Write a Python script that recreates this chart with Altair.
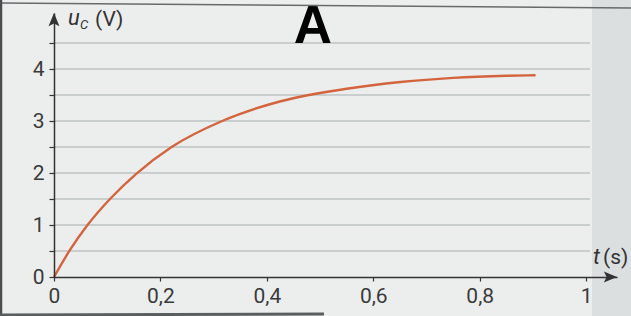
import altair as alt
import pandas as pd

# --- data ---
t_values = [0, 0.03, 0.063, 0.107, 0.154, 0.221, 0.316, 0.426, 0.55, 0.651, 0.75, 0.85, 0.905]
u_values = [0, 0.52, 1.0, 1.52, 1.98, 2.5, 3.0, 3.38, 3.62, 3.75, 3.83, 3.87, 3.88]
x_ticks = [0, 0.2, 0.4, 0.6, 0.8, 1]
y_ticks = [0, 0.5, 1, 1.5, 2, 2.5, 3, 3.5, 4, 4.5]
grid_lines = [0.5, 1, 1.5, 2, 2.5, 3, 3.5, 4, 4.5]
x_max = 1.058
y_max = 5.077
grid_end = 1.007

W, H = 563, 264
FONT = "Roboto"
AXIS_COLOR = "#333333"

xs = alt.Scale(domain=[0, x_max], nice=False, zero=False)
ys = alt.Scale(domain=[0, y_max], nice=False, zero=False)

curve_df = pd.DataFrame({"t": t_values, "u": u_values})
grid_df = pd.DataFrame({"g": grid_lines, "x0": [0] * len(grid_lines), "x1": [grid_end] * len(grid_lines)})
one = pd.DataFrame({"a": [0]})

x_axis = alt.Axis(
    values=x_ticks, format=".1~f",
    labelExpr="replace(datum.label, '.', ',')",
    title=None, grid=False, domainColor=AXIS_COLOR, domainWidth=1.5,
    tickColor=AXIS_COLOR, tickSize=4, tickWidth=1.2,
    labelFont=FONT, labelFontSize=21, labelColor="#3a3a3a",
    labelPadding=4, labelOverlap=False, labelFlush=False, zindex=1,
)
y_axis = alt.Axis(
    values=y_ticks,
    labelExpr="datum.value % 1 === 0 ? format(datum.value, 'd') : ''",
    title=None, grid=False, domainColor=AXIS_COLOR, domainWidth=1.5,
    tickColor=AXIS_COLOR, tickSize=5, tickWidth=1.2,
    labelFont=FONT, labelFontSize=21, labelColor="#3a3a3a",
    labelPadding=5, labelOverlap=False, labelFlush=False, zindex=1,
)

shade = alt.Chart(one).mark_rect(color="#dcdfdf").encode(
    x=alt.value(538), x2=alt.value(577), y=alt.value(-13), y2=alt.value(303)
)

grid = alt.Chart(grid_df).mark_rule(color="#a5aeae", strokeWidth=1).encode(
    x=alt.X("x0:Q", scale=xs, axis=x_axis),
    x2="x1:Q",
    y=alt.Y("g:Q", scale=ys, axis=y_axis),
)

curve = alt.Chart(curve_df).mark_line(
    color="#d4643e", strokeWidth=2.4, interpolate="monotone"
).encode(
    x=alt.X("t:Q", scale=xs, axis=x_axis),
    y=alt.Y("u:Q", scale=ys, axis=y_axis),
)

arrow_y = alt.Chart(pd.DataFrame({"x": [0], "y": [y_max]})).mark_point(
    shape="M0,0L0.5,1.2L0,0.95L-0.5,1.2Z", size=480, filled=True,
    color=AXIS_COLOR, opacity=1, strokeWidth=0,
).encode(x=alt.X("x:Q", scale=xs, axis=x_axis), y=alt.Y("y:Q", scale=ys, axis=y_axis))

arrow_x = alt.Chart(pd.DataFrame({"x": [x_max], "y": [0]})).mark_point(
    shape="M0,0L-1.2,-0.5L-0.95,0L-1.2,0.5Z", size=480, filled=True,
    color=AXIS_COLOR, opacity=1, strokeWidth=0,
).encode(x=alt.X("x:Q", scale=xs, axis=x_axis), y=alt.Y("y:Q", scale=ys, axis=y_axis))

def txt(s, x, y, size, style="normal", weight="normal", color="#333333", font=FONT):
    return alt.Chart(one).mark_text(
        text=s, font=font, fontSize=size, fontStyle=style, fontWeight=weight,
        color=color, align="left", baseline="alphabetic",
    ).encode(x=alt.value(x), y=alt.value(y))

u_lbl = txt("u", 14, 12, 22, style="italic")
c_lbl = txt("C", 26, 16, 13, style="italic")
v_lbl = txt("(V)", 41, 13, 21)
t_lbl = txt("t", 539, 251, 22, style="italic")
s_lbl = txt("(s)", 549, 251, 21)
a_lbl = alt.Chart(one).mark_text(
    text="A", font="Liberation Sans", fontSize=53, fontWeight="bold",
    color="#000000", align="center", baseline="alphabetic",
).encode(x=alt.value(259), y=alt.value(30))

top_line = alt.Chart(one).mark_rule(color="#666a6a", strokeWidth=1.5).encode(
    x=alt.value(-54), x2=alt.value(577), y=alt.value(-10), y2=alt.value(-5)
)
left_line = alt.Chart(one).mark_rule(color="#4a4d4d", strokeWidth=2.5).encode(
    x=alt.value(-53), y=alt.value(-13), y2=alt.value(303)
)
bottom_line = alt.Chart(one).mark_rule(color="#5a5e5e", strokeWidth=3).encode(
    x=alt.value(-54), x2=alt.value(270), y=alt.value(302), y2=alt.value(301)
)

chart = alt.layer(
    shade, grid, curve, arrow_y, arrow_x,
    u_lbl, c_lbl, v_lbl, t_lbl, s_lbl, a_lbl, top_line, left_line, bottom_line,
).properties(
    width=W, height=H, background="#eceeee",
    autosize=alt.AutoSizeParams(type="none"),
    padding={"left": 54, "top": 13, "right": 14, "bottom": 39},
).configure_view(stroke=None)

chart.save("out.html", embed_options={"renderer": "svg", "actions": False})
